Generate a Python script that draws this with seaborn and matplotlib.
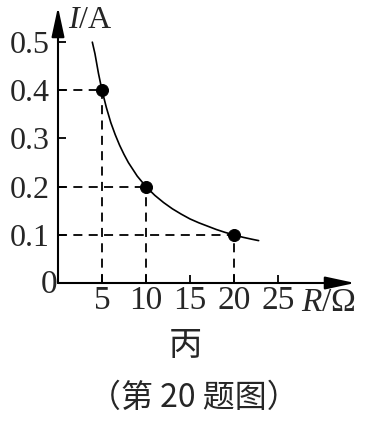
import matplotlib
matplotlib.use("Agg")
import matplotlib.pyplot as plt
import seaborn as sns
import pandas as pd

# Data
R_curve = [3.9, 4.2, 4.6, 5.0, 5.5, 6.0, 6.5, 7.0, 7.5, 8.0, 9.0, 10.0, 11.0, 12.0,
           13.0, 14.0, 15.0, 16.0, 17.0, 18.0, 19.0, 20.0, 21.0, 22.0, 22.8]
I_curve = [0.500, 0.476, 0.435, 0.400, 0.364, 0.333, 0.308, 0.286, 0.267, 0.250,
           0.222, 0.200, 0.182, 0.167, 0.154, 0.143, 0.133, 0.125, 0.118, 0.111,
           0.105, 0.100, 0.095, 0.091, 0.088]
R_points = [5, 10, 20]
I_points = [0.4, 0.2, 0.1]
x_ticks = [5, 10, 15, 20, 25]
y_ticks = [0.1, 0.2, 0.3, 0.4, 0.5]
y_tick_labels = ["0.1", "0.2", "0.3", "0.4", "0.5"]
sub_caption = "丙"
caption = "（第 20 题图）"

sns.set_style("white")
plt.rcParams["font.family"] = ["Liberation Serif", "DejaVu Serif"]
plt.rcParams["mathtext.fontset"] = "custom"
plt.rcParams["mathtext.rm"] = "Liberation Serif"
plt.rcParams["mathtext.it"] = "Liberation Serif:italic"

fig = plt.figure(figsize=(3.70, 4.21), dpi=100)
ax = fig.add_axes([58 / 370, 138 / 421, 297 / 370, 276 / 421])
ax.set_xlim(0, 297 / 8.8)
ax.set_ylim(0, 0.573)

curve_df = pd.DataFrame({"R": R_curve, "I": I_curve})
pts_df = pd.DataFrame({"R": R_points, "I": I_points})

# dashed guide lines
for r, i in zip(R_points, I_points):
    ax.plot([0, r], [i, i], color="black", lw=1.3, ls=(0, (5, 3.5)), zorder=1)
    ax.plot([r, r], [0, i], color="black", lw=1.3, ls=(0, (5, 3.5)), zorder=1)

sns.lineplot(data=curve_df, x="R", y="I", ax=ax, color="black", lw=1.2,
             sort=False, estimator=None, zorder=2)
sns.scatterplot(data=pts_df, x="R", y="I", ax=ax, color="black", s=75,
                edgecolor="black", zorder=3)

for s in ax.spines.values():
    s.set_visible(False)

arrow = dict(arrowstyle="-|>,head_length=1.3,head_width=0.28", color="black",
             lw=1.5, shrinkA=0, shrinkB=0, mutation_scale=14)
ax.annotate("", xy=(1, 0), xytext=(0, 0), xycoords="axes fraction",
            textcoords="axes fraction", arrowprops=arrow, annotation_clip=False)
ax.annotate("", xy=(0, 1), xytext=(0, 0), xycoords="axes fraction",
            textcoords="axes fraction", arrowprops=arrow, annotation_clip=False)

ax.set_xticks(x_ticks)
ax.set_xticklabels([str(t) for t in x_ticks], fontsize=24)
ax.set_yticks(y_ticks)
ax.set_yticklabels(y_tick_labels, fontsize=23)
ax.tick_params(axis="both", direction="in", length=6, width=1.3, color="black",
               bottom=True, left=True)
ax.tick_params(axis="x", pad=2)
ax.tick_params(axis="y", pad=6)
ax.set_xlabel("")
ax.set_ylabel("")

ax.text(-0.03, -0.005, "0", transform=ax.get_xaxis_transform(), fontsize=24,
        ha="right", va="center")
fig.text(301 / 370, 1 - 303 / 421, "$\\it{R}$/Ω", fontsize=24, ha="left", va="center")
fig.text(68 / 370, 1 - 20 / 421, "$\\it{I}$/A", fontsize=23, ha="left", va="center")

fig.text(185 / 370, 1 - 346 / 421, sub_caption, fontsize=24, ha="center", va="center",
         family=["Noto Sans CJK SC", "DejaVu Sans"])
fig.text(194 / 370, 1 - 398 / 421, caption, fontsize=23, ha="center", va="center",
         family=["Noto Sans CJK SC", "DejaVu Sans"])

fig.savefig("out.png", dpi=100)
